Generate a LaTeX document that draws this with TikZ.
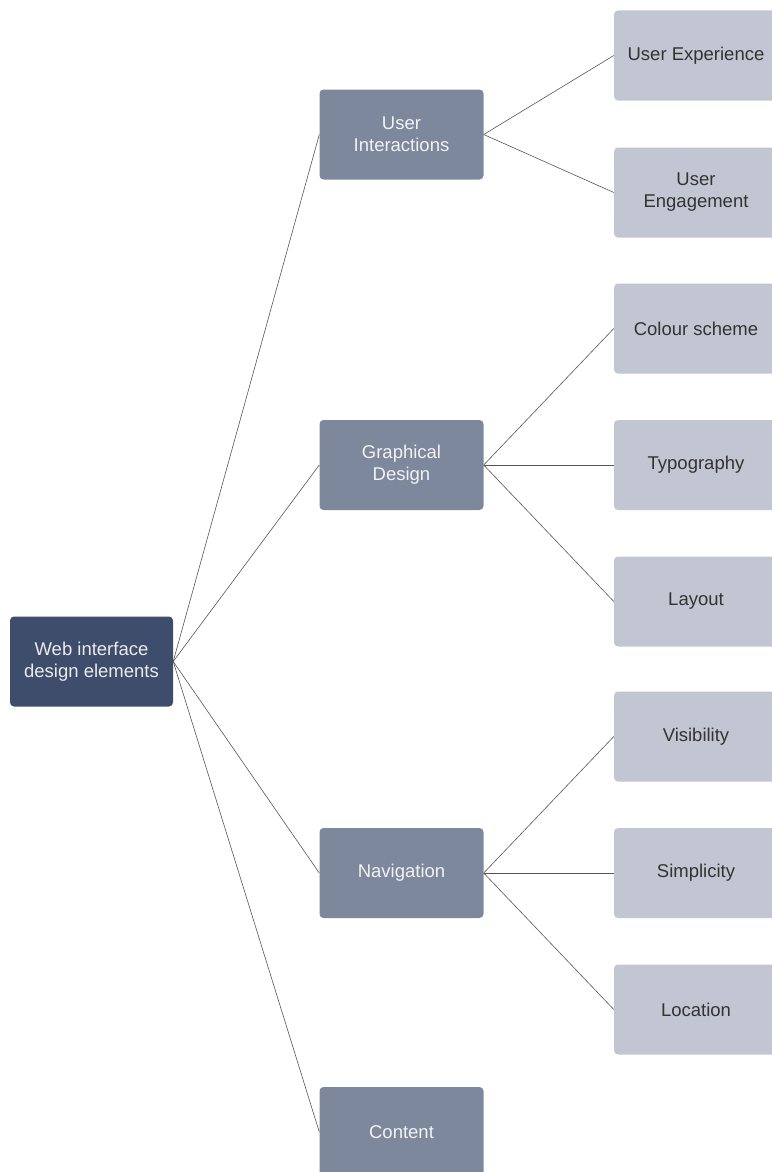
\documentclass[tikz,border=0pt]{standalone}
\usepackage{fontspec}
\setmainfont{Liberation Sans}
\definecolor{rootc}{HTML}{3F4D6C}
\definecolor{midc}{HTML}{7E889D}
\definecolor{leafc}{HTML}{C1C6D2}
\definecolor{leaftext}{HTML}{333333}
\definecolor{linec}{HTML}{555555}
\begin{document}
\begin{tikzpicture}[x=1pt,y=-1pt,
  box/.style={rectangle,rounded corners=4pt,minimum width=164pt,minimum height=90pt,align=center,font=\fontsize{18.5}{22}\selectfont,inner sep=0pt},
  rootbox/.style={box,fill=rootc,text=white!92!black,minimum width=163pt},
  midbox/.style={box,fill=midc,text=white!95!black},
  leafbox/.style={box,fill=leafc,text=leaftext},
  link/.style={draw=linec,line width=0.6pt}]
\useasboundingbox (0,0) rectangle (771,1172);
\node[rootbox] (root) at (91.5,661.5) {Web interface\\design elements};
\node[midbox] (ui) at (401.5,134.5) {User\\Interactions};
\node[midbox] (gd) at (401.5,465) {Graphical\\Design};
\node[midbox] (nav) at (401.5,873) {Navigation};
\node[midbox] (con) at (401.5,1132) {Content};
\node[leafbox] (ux) at (696,55.5) {User Experience};
\node[leafbox] (ue) at (696,192.5) {User\\Engagement};
\node[leafbox] (cs) at (696,328.5) {Colour scheme};
\node[leafbox] (ty) at (696,465) {Typography};
\node[leafbox] (la) at (696,601.5) {Layout};
\node[leafbox] (vi) at (696,736.5) {Visibility};
\node[leafbox] (si) at (696,873) {Simplicity};
\node[leafbox] (lo) at (696,1009.5) {Location};
\foreach \c in {ui,gd,nav,con} \draw[link] (root.east) -- (\c.west);
\foreach \c in {ux,ue} \draw[link] (ui.east) -- (\c.west);
\foreach \c in {cs,ty,la} \draw[link] (gd.east) -- (\c.west);
\foreach \c in {vi,si,lo} \draw[link] (nav.east) -- (\c.west);
\end{tikzpicture}
\end{document}
